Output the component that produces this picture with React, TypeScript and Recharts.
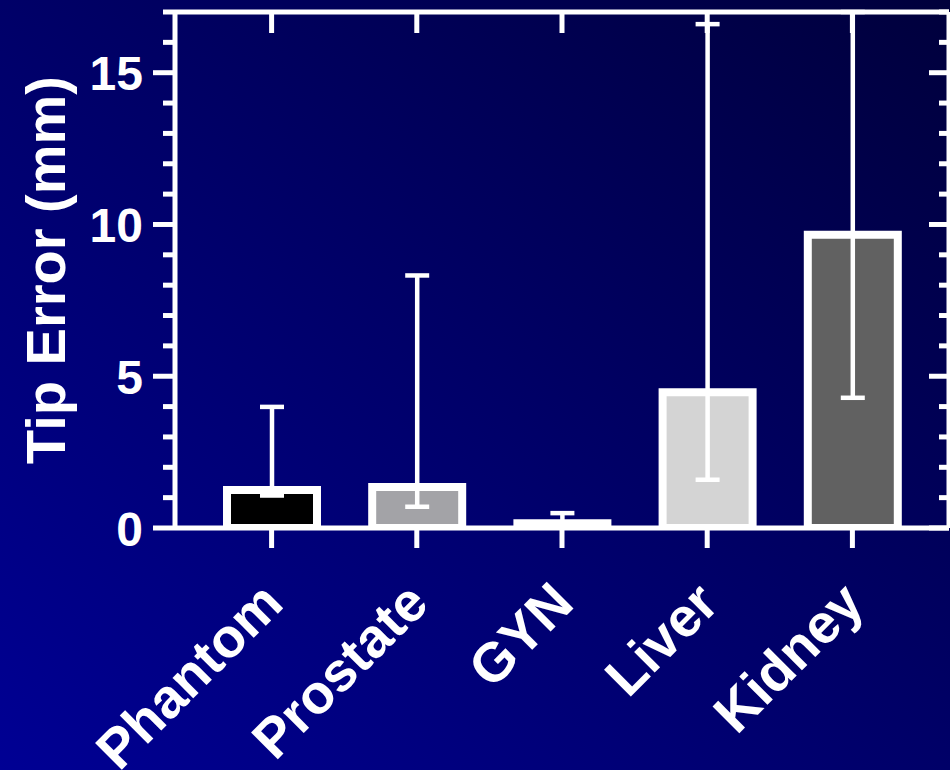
import React from "react";
import { ComposedChart, Bar, XAxis, YAxis, ErrorBar, Cell } from "recharts";

const categories = ["Phantom", "Prostate", "GYN", "Liver", "Kidney"];
const values = [1.25, 1.35, 0.16, 4.47, 9.66];
const lowerBounds = [1.07, 0.7, 0.1, 1.59, 4.29];
// kidney's upper end runs off the top of the axis, only the visible part is known
const upperBounds = [3.99, 8.32, 0.49, 16.6, 17];
const barColors = ["#000000", "#a3a3a7", "#ffffff", "#d4d4d4", "#616161"];
const yTicks = [0, 1, 2, 3, 4, 5, 6, 7, 8, 9, 10, 11, 12, 13, 14, 15, 16, 17];
const yLabels = [0, 5, 10, 15];

const data = categories.map((name, i) => ({
  name,
  value: values[i],
  err: [values[i] - lowerBounds[i], upperBounds[i] - values[i]],
}));

const FONT = "'Liberation Sans', Arial, sans-serif";
const W = 950;
const H = 770;

function LeftTick({ x, y, payload }: any) {
  const major = payload.value % 5 === 0;
  return (
    <g>
      <line x1={x - (major ? 22 : 12)} y1={y} x2={x} y2={y} stroke="#fff" strokeWidth={5} />
      {yLabels.includes(payload.value) && (
        <text
          x={x - 32}
          y={y}
          dy="0.37em"
          textAnchor="end"
          fill="#fff"
          fontFamily={FONT}
          fontWeight="bold"
          fontSize={48}
        >
          {payload.value}
        </text>
      )}
    </g>
  );
}

function RightTick({ x, y, payload }: any) {
  const major = payload.value % 5 === 0;
  return <line x1={x - (major ? 20 : 10)} y1={y} x2={x} y2={y} stroke="#fff" strokeWidth={5} />;
}

function BottomTick({ x, y, payload }: any) {
  const tx = x + 14;
  const ty = y + 78;
  return (
    <g>
      <line x1={x} y1={y} x2={x} y2={y + 20} stroke="#fff" strokeWidth={5} />
      <text
        x={tx}
        y={ty}
        textAnchor="end"
        transform={`rotate(-45 ${tx} ${ty})`}
        fill="#fff"
        fontFamily={FONT}
        fontWeight="bold"
        fontSize={55}
      >
        {payload.value}
      </text>
    </g>
  );
}

function TopTick({ x, y }: any) {
  return <line x1={x} y1={y} x2={x} y2={y + 21} stroke="#fff" strokeWidth={5} />;
}

export default function App() {
  return (
    <div
      style={{
        position: "fixed",
        left: 0,
        top: 0,
        width: W,
        height: H,
        background: "linear-gradient(to top right, #000094, #00003c)",
      }}
    >
      <ComposedChart width={W} height={H} data={data} margin={{ top: 0, right: 0, bottom: 241, left: 0 }}>
        <XAxis
          dataKey="name"
          xAxisId="bottom"
          height={1}
          padding={{ left: 24, right: 24 }}
          stroke="#fff"
          strokeWidth={5}
          tickLine={false}
          tickSize={0}
          tickMargin={0}
          tick={<BottomTick />}
          interval={0}
        />
        <XAxis
          dataKey="name"
          xAxisId="top"
          orientation="top"
          height={12}
          padding={{ left: 24, right: 24 }}
          stroke="#fff"
          strokeWidth={5}
          tickLine={false}
          tickSize={0}
          tickMargin={0}
          tick={<TopTick />}
          interval={0}
        />
        <YAxis
          yAxisId="left"
          width={175}
          domain={[0, 17]}
          ticks={yTicks}
          interval={0}
          allowDataOverflow
          stroke="#fff"
          strokeWidth={5}
          tickLine={false}
          tickSize={0}
          tickMargin={0}
          tick={<LeftTick />}
          label={{
            value: "Tip Error (mm)",
            angle: -90,
            position: "insideLeft",
            offset: 0,
            dx: 45,
            fill: "#fff",
            fontFamily: FONT,
            fontWeight: "bold",
            fontSize: 56,
            style: { textAnchor: "middle" },
          }}
        />
        <YAxis
          yAxisId="right"
          orientation="right"
          width={1}
          domain={[0, 17]}
          ticks={yTicks}
          interval={0}
          allowDataOverflow
          stroke="#fff"
          strokeWidth={5}
          tickLine={false}
          tickSize={0}
          tickMargin={0}
          tick={<RightTick />}
        />
        <Bar
          dataKey="value"
          xAxisId="bottom"
          yAxisId="left"
          barSize={90}
          stroke="#fff"
          strokeWidth={8}
          isAnimationActive={false}
        >
          {data.map((d, i) => (
            <Cell key={d.name} fill={barColors[i]} />
          ))}
          <ErrorBar dataKey="err" width={12} stroke="#fff" strokeWidth={4.5} direction="y" />
        </Bar>
      </ComposedChart>
    </div>
  );
}
